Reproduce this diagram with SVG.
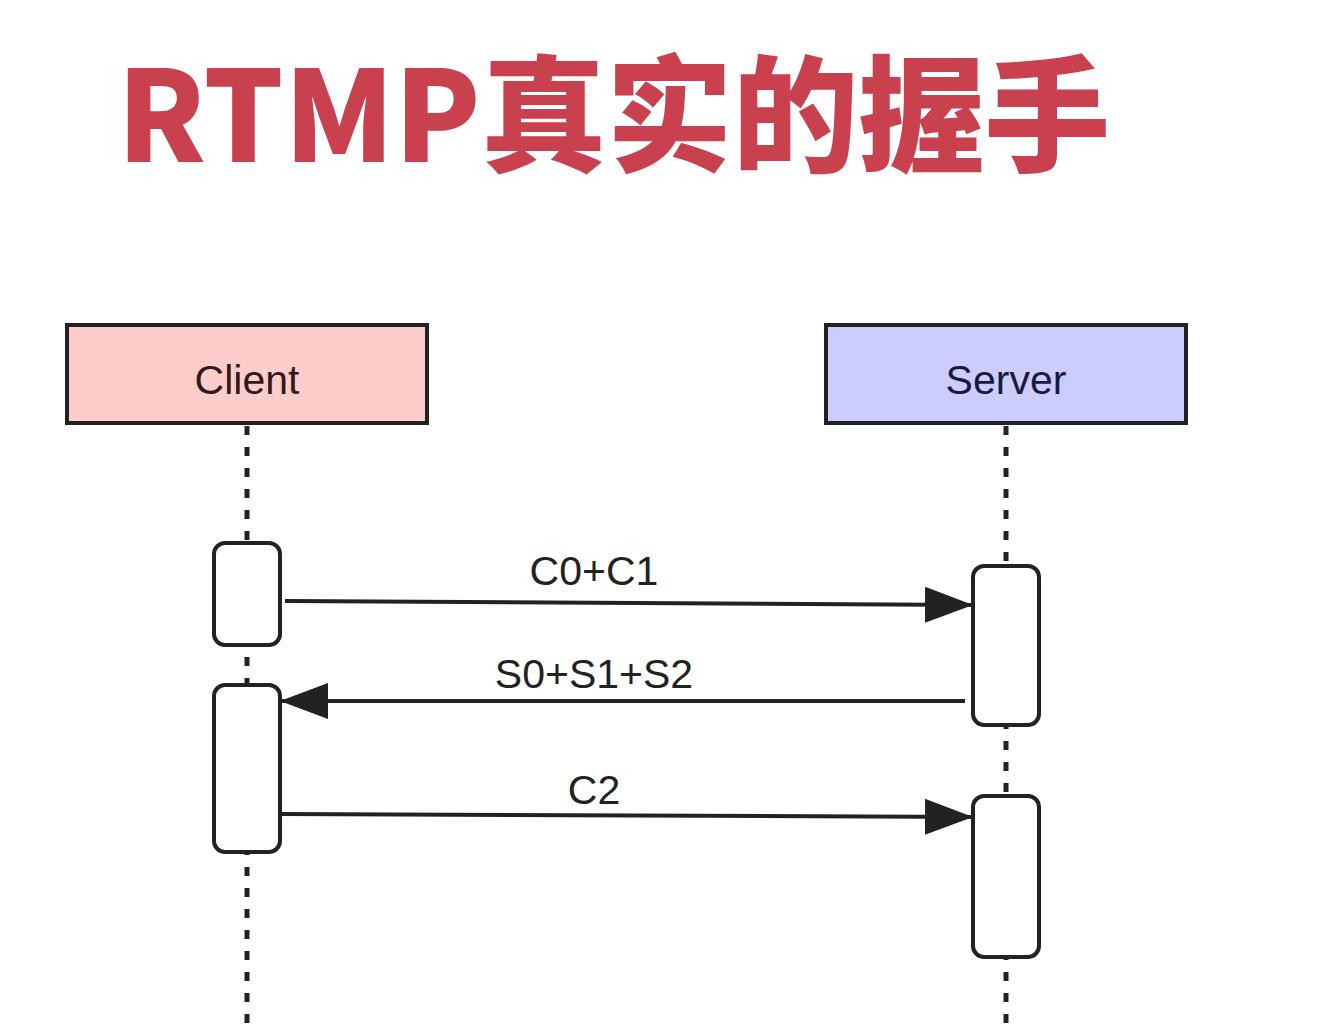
<svg xmlns="http://www.w3.org/2000/svg" width="1328" height="1028" viewBox="0 0 1328 1028">
<style>
.title{font-family:"Noto Sans CJK SC","Noto Sans",sans-serif;font-weight:900;font-size:126px;fill:#c9404e}
.hdr{stroke:#222;stroke-width:4}
.lbl{font-family:"Liberation Sans",Arial,sans-serif;font-size:41px;text-anchor:middle}
.life{stroke:#222;stroke-width:5;stroke-dasharray:9 12;fill:none}
.act{fill:#fff;stroke:#222;stroke-width:4}
.msg{stroke:#222;stroke-width:4;fill:none}
</style>
<defs>
<marker id="ah" markerUnits="userSpaceOnUse" markerWidth="50" markerHeight="36" refX="48" refY="18" orient="auto">
<path d="M0,0 L48,18 L0,36 Z" fill="#222"/>
</marker>
</defs>
<rect width="1328" height="1028" fill="#fff"/>
<text class="title" x="117" y="162" textLength="993" lengthAdjust="spacingAndGlyphs">RTMP真实的握手</text>
<g id="lifelines">
<line class="life" x1="247" y1="426" x2="247" y2="1028"/>
<line class="life" x1="1006" y1="426" x2="1006" y2="1028"/>
</g>
<g id="client">
<rect class="hdr" x="67" y="325" width="360" height="98" fill="#ffcccc"/>
<text class="lbl" x="247" y="394" fill="#331a1a">Client</text>
</g>
<g id="server">
<rect class="hdr" x="826" y="325" width="360" height="98" fill="#ccccff"/>
<text class="lbl" x="1006" y="394" fill="#1a1a3d">Server</text>
</g>
<g id="client-act1"><rect class="act" x="214" y="543" width="66" height="102" rx="11"/></g>
<g id="client-act2"><rect class="act" x="214" y="685" width="66" height="167" rx="11"/></g>
<g id="server-act1"><rect class="act" x="973" y="566" width="66" height="159" rx="11"/></g>
<g id="server-act2"><rect class="act" x="973" y="796" width="66" height="161" rx="11"/></g>
<g id="connectors">
<line class="msg" x1="285" y1="601" x2="973" y2="605" marker-end="url(#ah)"/>
<text class="lbl" x="594" y="585" fill="#222">C0+C1</text>
<line class="msg" x1="965" y1="701" x2="280" y2="701" marker-end="url(#ah)"/>
<text class="lbl" x="594" y="688" fill="#222">S0+S1+S2</text>
<line class="msg" x1="282" y1="814" x2="973" y2="817" marker-end="url(#ah)"/>
<text class="lbl" x="594" y="804" fill="#222">C2</text>
</g>
</svg>
